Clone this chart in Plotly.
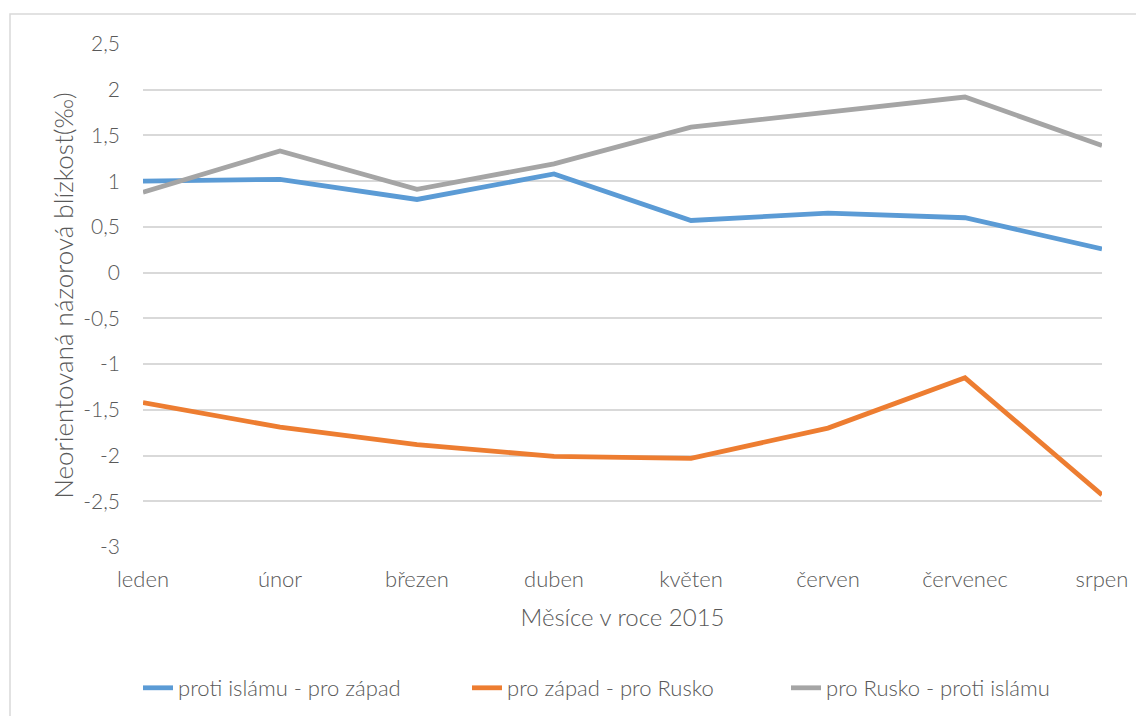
import plotly.graph_objects as go

months = ["leden", "únor", "březen", "duben", "květen", "červen", "červenec", "srpen"]
s1_name = "proti islámu - pro západ"
s1 = [1.00, 1.02, 0.80, 1.08, 0.57, 0.65, 0.60, 0.26]
s2_name = "pro západ - pro Rusko"
s2 = [-1.42, -1.69, -1.88, -2.01, -2.03, -1.70, -1.15, -2.43]
s3_name = "pro Rusko - proti islámu"
s3 = [0.88, 1.33, 0.91, 1.19, 1.59, 1.75, 1.92, 1.39]
y_ticks = [2.5, 2, 1.5, 1, 0.5, 0, -0.5, -1, -1.5, -2, -2.5, -3]
y_ticktext = [("%g" % v).replace(".", ",") for v in y_ticks]

colors = ["#5b9bd5", "#ed7d31", "#a5a5a5"]
FONT = "Lato"
W, H = 1144, 716
OFF = 8  # page offset of the figure
L, R, T, B = 143 - OFF, 50, 44 - OFF, 177
pw = W - L - R
ph = H - T - B


def px_x(page_x):
    return (page_x - OFF - L) / pw


def px_y(page_y):
    return (H - B - (page_y - OFF)) / ph


legend_ids = ["legend", "legend2", "legend3"]
text_starts = [180, 509, 828]

fig = go.Figure()
for (name, vals, c), lid in zip([(s1_name, s1, colors[0]), (s2_name, s2, colors[1]),
                                  (s3_name, s3, colors[2])], legend_ids):
    fig.add_trace(go.Scatter(x=months, y=vals, name=name, mode="lines", legend=lid,
                             line=dict(color=c, width=4.8)))

fig.add_shape(type="rect", xref="paper", yref="paper",
              x0=px_x(10), x1=px_x(W + 20),
              y0=px_y(H + 20), y1=px_y(14),
              line=dict(color="#d9d9d9", width=1.5), layer="below")

leg_font = dict(size=22, color="#595959", family=FONT, weight=300)
legends = {}
for lid, ts in zip(legend_ids, text_starts):
    legends[lid] = dict(orientation="h", x=px_x(ts - 42), xanchor="left",
                        y=px_y(688), yanchor="middle", font=leg_font,
                        bgcolor="rgba(0,0,0,0)")

fig.update_layout(
    width=W, height=H,
    margin=dict(l=L, r=R, t=T, b=B, pad=0),
    paper_bgcolor="white", plot_bgcolor="white",
    font=dict(family=FONT, color="#595959", size=16, weight=300),
    showlegend=True,
    **legends,
    xaxis=dict(type="category", range=[0, 7], showgrid=False, zeroline=False,
               showline=False, ticks="", ticklabelstandoff=17,
               tickfont=dict(size=22, color="#595959", family=FONT, weight=300),
               title=dict(text="Měsíce v roce 2015",
                          font=dict(size=24, color="#595959", family=FONT, weight=300),
                          standoff=18)),
    yaxis=dict(range=[-3, 2.5], tickvals=y_ticks, ticktext=y_ticktext, showgrid=True,
               gridcolor="#d9d9d9", gridwidth=1.5, zeroline=False, showline=False,
               ticks="", ticklabelstandoff=22,
               tickfont=dict(size=21, color="#595959", family=FONT, weight=300),
               title=dict(text="Neorientovaná názorová blízkost(‰)",
                          font=dict(size=26, color="#595959", family=FONT, weight=300),
                          standoff=2)),
)

fig.write_html("out.html")
